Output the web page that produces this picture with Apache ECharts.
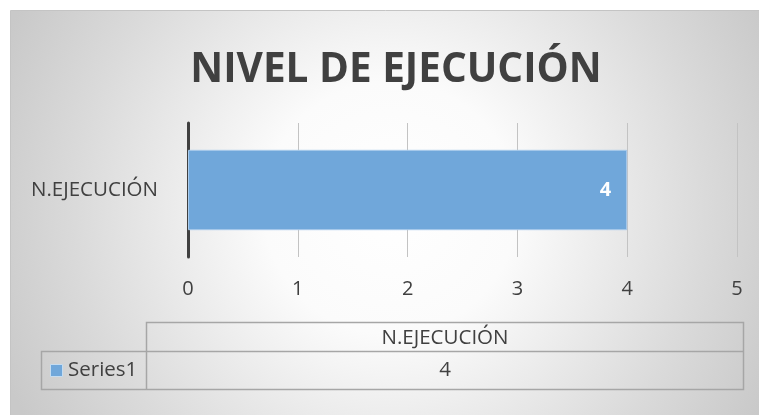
<!DOCTYPE html>
<html><head><meta charset="utf-8">
<script src="https://cdn.jsdelivr.net/npm/echarts@6/dist/echarts.min.js"></script>
<style>html,body{margin:0;padding:0;background:#fff}#c{width:759px;height:415px}</style>
</head><body><div id="c"></div>
<script>
const titleText = 'NIVEL DE EJECUCIÓN';
const categories = ['N.EJECUCIÓN'];
const seriesName = 'Series1';
const values = [4];
const axisMin = 0, axisMax = 5, axisStep = 1;

const FONT = '"Open Sans", sans-serif';
const TXT = '#404040';
const chart = echarts.init(document.getElementById('c'), null, {renderer: 'canvas'});

// Data table (built from the arrays above)
const tblLeft = 41.5, tblColL = 146.5, tblRight = 743.5, r0 = 322.5, r1 = 351.5, r2 = 389.5;
const tableGraphics = [
  {type: 'rect', z: -10, shape: {x: 10.5, y: 10.5, width: 760, height: 420},
   style: {fill: {type: 'radial', x: 0.5, y: 0.47, r: 1.0,
     colorStops: [{offset: 0, color: '#ffffff'}, {offset: 0.3, color: '#fbfbfb'}, {offset: 0.75, color: '#dadada'}, {offset: 1, color: '#c9c9c9'}]},
     stroke: '#c4c4c4', lineWidth: 1}},
  {type: 'polyline', shape: {points: [[tblColL, r1], [tblColL, r0], [tblRight, r0], [tblRight, r2], [tblLeft, r2], [tblLeft, r1], [tblRight, r1]]},
   style: {stroke: '#a6a6a6', lineWidth: 1.5, fill: null}},
  {type: 'line', shape: {x1: tblColL, y1: r1, x2: tblColL, y2: r2}, style: {stroke: '#a6a6a6', lineWidth: 1.5}},
  {type: 'text', x: (tblColL + tblRight) / 2, y: (r0 + r1) / 2 + 1,
   style: {text: categories[0], font: '20.5px ' + FONT, fill: TXT, align: 'center', verticalAlign: 'middle'}},
  {type: 'text', x: (tblColL + tblRight) / 2, y: (r1 + r2) / 2,
   style: {text: String(values[0]), font: '20.5px ' + FONT, fill: TXT, align: 'center', verticalAlign: 'middle'}},
  {type: 'rect', shape: {x: 50.5, y: 364.5, width: 12, height: 12}, style: {fill: '#70a7da', stroke: '#c5dcf0', lineWidth: 1}},
  {type: 'text', x: 68, y: (r1 + r2) / 2,
   style: {text: seriesName, font: '20.5px ' + FONT, fill: TXT, align: 'left', verticalAlign: 'middle'}}
];

chart.setOption({
  backgroundColor: '#ffffff',
  animation: false,
  title: {text: titleText, left: 391, top: 45, textAlign: 'center',
    textStyle: {fontFamily: FONT, fontWeight: 'bold', fontSize: 40.5, color: TXT}},
  grid: {left: 188, right: 22, top: 123, bottom: 158, containLabel: false},
  xAxis: {type: 'value', min: axisMin, max: axisMax, interval: axisStep,
    axisLine: {show: false}, axisTick: {show: false},
    splitLine: {show: true, lineStyle: {color: '#c3c3c3', width: 1}},
    axisLabel: {color: TXT, fontFamily: FONT, fontSize: 20, margin: 22}},
  yAxis: {type: 'category', data: categories,
    axisLine: {show: true, onZero: false, lineStyle: {color: '#404040', width: 3}},
    axisTick: {show: false},
    axisLabel: {color: TXT, fontFamily: FONT, fontSize: 20.5, margin: 30}},
  series: [{type: 'bar', name: seriesName, data: values, barCategoryGap: '40%',
    itemStyle: {color: '#70a7da', borderColor: '#a9cbec', borderWidth: 1},
    label: {show: true, position: 'insideRight', distance: 16, color: '#ffffff',
      fontFamily: FONT, fontWeight: 'bold', fontSize: 20}}],
  graphic: tableGraphics
});
</script></body></html>
